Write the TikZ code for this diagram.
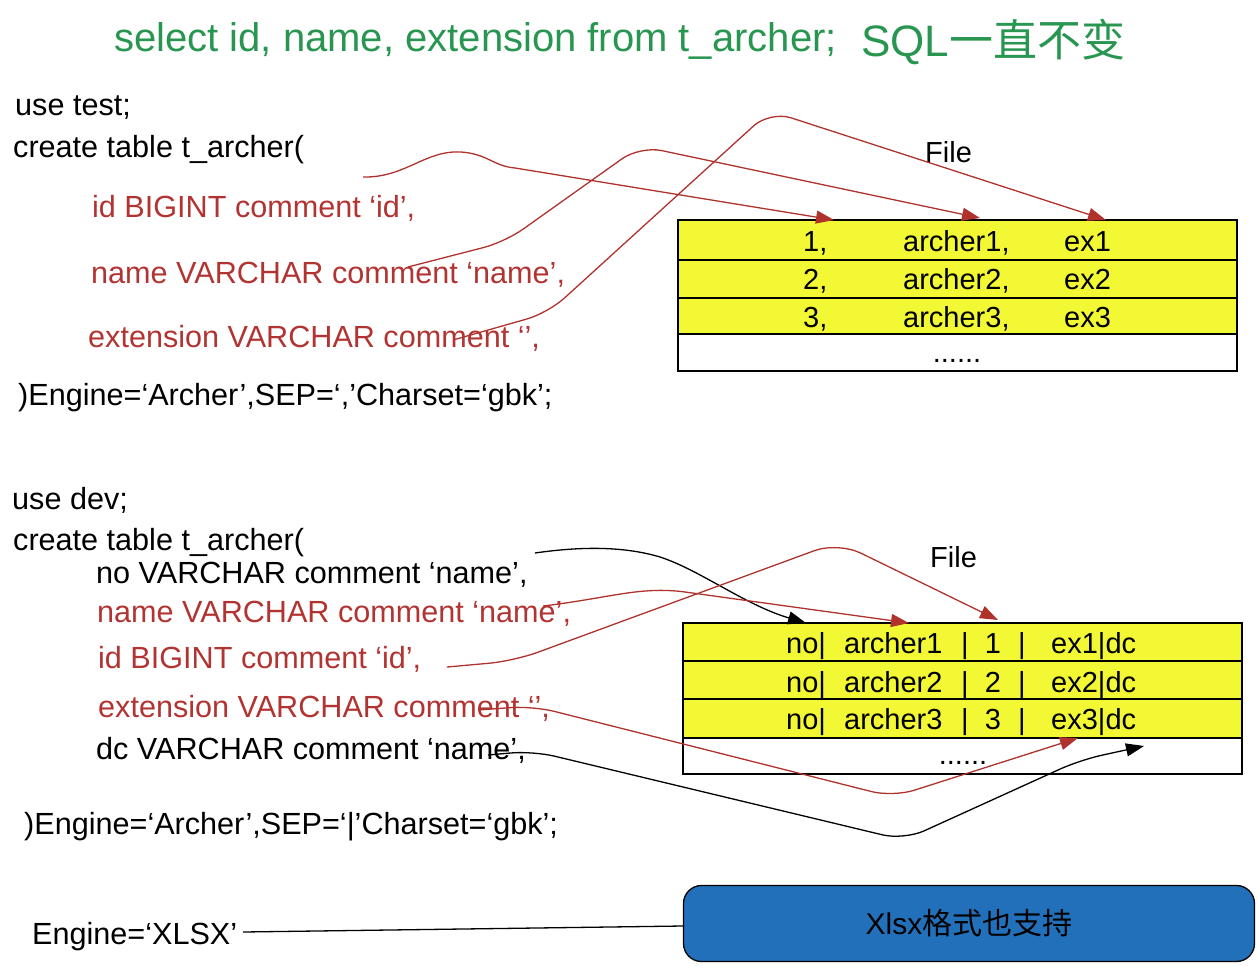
\documentclass[tikz,border=0pt]{standalone}
\usepackage{fontspec}
\setmainfont{Liberation Sans}
\newfontfamily\cjk{Noto Sans CJK SC}
\usetikzlibrary{arrows.meta}
\definecolor{titlegreen}{RGB}{40,150,80}
\definecolor{sqlred}{RGB}{178,52,50}
\definecolor{arrred}{RGB}{175,50,45}
\definecolor{rowyellow}{RGB}{243,248,52}
\definecolor{boxblue}{RGB}{35,112,186}
\begin{document}
\begin{tikzpicture}[x=1pt,y=-1pt,
  txt/.style={anchor=base west, inner sep=0pt, font=\fontsize{30.6}{36}\selectfont},
  redtxt/.style={txt, text=sqlred},
  cell/.style={anchor=base west, inner sep=0pt, font=\fontsize{29}{34}\selectfont},
  ccell/.style={cell, anchor=base},
  yrow/.style={draw=black, line width=1.5pt, fill=rowyellow, minimum width=559pt, inner sep=0pt},
  wrow/.style={yrow, fill=white},
  redarr/.style={draw=arrred, line width=1.3pt, -{Triangle[length=18pt,width=13pt]}},
  blkarr/.style={draw=black, line width=1.3pt, -{Triangle[length=18pt,width=13pt]}},
]
\useasboundingbox (0,0) rectangle (1258,966);

% title
\node[anchor=base west, inner sep=0pt, text=titlegreen, font=\fontsize{40}{48}\selectfont] (title) at (114,52) {select id, name, extension from t\_archer;};
\node[anchor=base west, inner sep=0pt, text=titlegreen, font=\fontsize{44}{52}\selectfont] (sql) at (861,57) {SQL{\cjk 一直不变}};

% top SQL
\node[txt] (ut) at (15,115) {use test;};
\node[txt] (ct1) at (13,157) {create table t\_archer(};
\node[redtxt] (id1) at (92,217) {id BIGINT comment ‘id’,};
\node[redtxt] (nm1) at (91,283) {name VARCHAR comment ‘name’,};
\node[redtxt] (ex1) at (88,347) {extension VARCHAR comment ‘’,};
\node[txt] (en1) at (18,405) {)Engine=‘Archer’,SEP=‘,’Charset=‘gbk’;};

% top table
\node[yrow, minimum height=40pt] (ta) at (957.5,240) {};
\node[yrow, minimum height=38pt] (tb) at (957.5,279) {};
\node[yrow, minimum height=36pt] (tc) at (957.5,316) {};
\node[wrow, minimum height=37pt] (td) at (957.5,352.5) {};
\node[cell] (f1) at (925,162) {File};
\foreach \i/\y in {1/251,2/289,3/327}{
  \node[cell] (tn\i) at (803,\y) {\i,};
  \node[cell] (tar\i) at (903,\y) {archer\i,};
  \node[cell] (tex\i) at (1064,\y) {ex\i};
}
\node[ccell] (tdots) at (957,362) {......};

% top connectors
\coordinate (sA) at (363,177);
\coordinate (sB) at (408,267);
\coordinate (sC) at (453,340);
\coordinate (eA) at (834,220);
\coordinate (eB) at (980,218);
\coordinate (eC) at (1106,220);
\draw[redarr] (sA) .. controls (405,178) and (425,150) .. (461,152) .. controls (488,154) and (493,166) .. (515,168) -- (eA);
\draw[redarr, rounded corners=22pt] (sB) -- (505,242) -- (640,146) -- (eB);
\draw[redarr, rounded corners=22pt] (sC) -- (548,313) -- (770,111) -- (eC);

% bottom SQL
\node[txt] (ud) at (12,509) {use dev;};
\node[txt] (ct2) at (13,550) {create table t\_archer(};
\node[txt] (no2) at (96,583) {no VARCHAR comment ‘name’,};
\node[redtxt] (nm2) at (97,622) {name VARCHAR comment ‘name’,};
\node[redtxt] (id2) at (98,668) {id BIGINT comment ‘id’,};
\node[redtxt] (ex2) at (98,717) {extension VARCHAR comment ‘’,};
\node[txt] (dc2) at (96,759) {dc VARCHAR comment ‘name’,};
\node[txt] (en2) at (24,834) {)Engine=‘Archer’,SEP=‘|’Charset=‘gbk’;};

% bottom table
\node[yrow, minimum height=38pt] (ba) at (962.5,642) {};
\node[yrow, minimum height=38pt] (bb) at (962.5,680) {};
\node[yrow, minimum height=39pt] (bc) at (962.5,718.5) {};
\node[wrow, minimum height=36pt] (bd) at (962.5,756) {};
\node[cell] (f2) at (930,567) {File};
\foreach \i/\y in {1/653,2/692,3/729}{
  \node[cell] (bno\i) at (786,\y) {no|};
  \node[cell] (bar\i) at (844,\y) {archer\i};
  \node[ccell] (bs\i) at (965,\y) {|};
  \node[ccell] (bn\i) at (993,\y) {\i};
  \node[ccell] (bt\i) at (1022,\y) {|};
  \node[cell] (bex\i) at (1051,\y) {ex\i|dc};
}
\node[ccell] (bdots) at (963,764) {......};

% bottom connectors
\coordinate (s1) at (535,553);
\coordinate (s2) at (543,606);
\coordinate (s3) at (447,667);
\coordinate (s4) at (478,710);
\coordinate (s5) at (488,755);
\coordinate (e1) at (806,623);
\coordinate (e2) at (909,623);
\coordinate (e3) at (998,620);
\coordinate (e4) at (1078,738);
\coordinate (e5) at (1144,746);
\draw[blkarr] (s1) .. controls (590,545) and (630,548) .. (660,557) .. controls (700,570) and (745,605) .. (e1);
\draw[redarr] (s2) .. controls (610,598) and (640,586) .. (685,592) -- (e2);
\draw[redarr, rounded corners=25pt] (s3) -- (514,661) -- (838,542) -- (e3);
\draw[redarr, rounded corners=22pt] (s4) -- (533,706) -- (893,797) -- (e4);
\draw[blkarr, rounded corners=22pt] (s5) -- (533,751) -- (904,840) -- (1080,760) -- (e5);

% xlsx
\node[txt] (eng) at (32,944) {Engine=‘XLSX’};
\node[draw=black, line width=1.3pt, fill=boxblue, rounded corners=18pt, minimum width=571pt, minimum height=76pt, font=\fontsize{30}{36}\selectfont] (xb) at (969,923.5) {Xlsx{\cjk 格式也支持}};
\coordinate (xs) at (243,932);
\draw[line width=1.3pt] (xs) -- ([yshift=-2.5pt]xb.west);
\end{tikzpicture}
\end{document}
